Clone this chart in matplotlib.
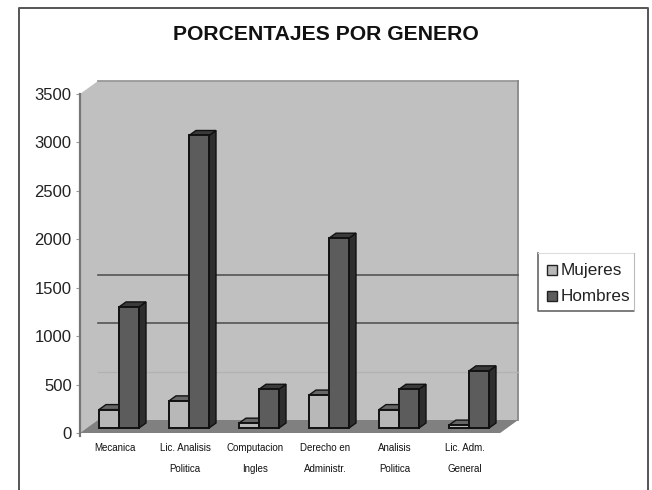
"""Columnas 3D simuladas: porcentajes por genero"""

import matplotlib
matplotlib.use("Agg")
matplotlib.rcParams["font.family"] = ["Liberation Sans", "DejaVu Sans"]

import matplotlib.pyplot as plt
from matplotlib.lines import Line2D
from matplotlib.patches import Polygon, Rectangle
import numpy as np

CATEGORIES = ["Mecanica", "Lic. Analisis\nPolitica", "Computacion\nIngles",
              "Derecho en\nAdministr.", "Analisis\nPolitica", "Lic. Adm.\nGeneral"]
MUJERES = [190, 280, 50, 340, 190, 30]
HOMBRES = [1250, 3020, 400, 1960, 400, 590]
Y_TICKS = [0, 500, 1000, 1500, 2000, 2500, 3000, 3500]
DARK_GRID = [1000, 1500]
FAINT_GRID = [500]

WALL = "#c0c0c0"
FLOOR = "#808080"
COLOR_M = "#b8b8b8"
COLOR_H = "#5c5c5c"

W, H = 652, 490
fig = plt.figure(figsize=(W / 100, H / 100), dpi=100, facecolor="white")

# marco exterior, en pixeles de figura
bg = fig.add_axes([0, 0, 1, 1])
bg.set_xlim(0, W)
bg.set_ylim(H, 0)
bg.axis("off")
bg.plot([19, 19, 648, 648], [490, 8, 8, 490], color="#555555", lw=1.4)

# plano frontal: x de 80 a 500 px, y de 433 a 94 px
ax = fig.add_axes([80 / W, 1 - 433 / H, 420 / W, 339 / H])
ax.set_xlim(0, len(CATEGORIES))
ax.set_ylim(0, 3500)
ax.patch.set_visible(False)
for s in ["top", "right", "bottom"]:
    ax.spines[s].set_visible(False)
ax.spines["left"].set_color("#777777")
ax.spines["left"].set_linewidth(1.6)
ax.spines["left"].set_bounds(-30, 3500)
ax.set_yticks(Y_TICKS)
ax.tick_params(axis="y", length=3, color="#999999", labelsize=12, pad=3, labelcolor="#222222")
ax.set_xticks(np.arange(len(CATEGORIES)) + 0.5)
ax.set_xticklabels(CATEGORIES, fontsize=7, linespacing=2.35, color="#111111")
ax.tick_params(axis="x", length=0, pad=7)

units_x = len(CATEGORIES) / 420
units_y = 3500 / 339


def offset(dx, dy):
    """Desplazamiento en px convertido a unidades de datos."""
    return dx * units_x, dy * units_y


def box(x0, width, value, color, side, top):
    dx, dy = offset(7, 5)
    _, y0 = offset(0, 5)
    y1 = y0 + value
    x1 = x0 + width
    ax.add_patch(Polygon([(x1, y0), (x1 + dx, y0 + dy), (x1 + dx, y1 + dy), (x1, y1)],
                         fc=side, ec="#111111", lw=1.0, zorder=4, clip_on=False))
    ax.add_patch(Polygon([(x0, y1), (x0 + dx, y1 + dy), (x1 + dx, y1 + dy), (x1, y1)],
                         fc=top, ec="#111111", lw=1.0, zorder=4, clip_on=False))
    ax.add_patch(Rectangle((x0, y0), width, value, fc=color, ec="#111111", lw=1.4,
                           zorder=5, clip_on=False))


# pared del fondo, pared lateral y piso
wx, wy = offset(18, 13)
xmax = len(CATEGORIES)
ax.add_patch(Polygon([(0, 0), (wx, wy), (wx, 3500 + wy), (xmax + wx, 3500 + wy), (xmax + wx, wy),
                      (xmax, 0)], fc=WALL, ec="none", zorder=0, clip_on=False))
ax.add_patch(Polygon([(0, 3500), (wx, 3500 + wy), (wx, wy), (0, 0)], fc=WALL, ec="none",
                     zorder=0, clip_on=False))
ax.plot([wx, xmax + wx], [3500 + wy] * 2, color="#999999", lw=1.3, zorder=1, clip_on=False)
ax.plot([xmax + wx] * 2, [wy, 3500 + wy], color="#888888", lw=1.3, zorder=1, clip_on=False)
ax.add_patch(Polygon([(0, 0), (wx, wy), (xmax + wx, wy), (xmax, 0)], fc=FLOOR, ec="none",
                     zorder=1, clip_on=False))

for v in DARK_GRID:
    ax.add_line(Line2D([wx, xmax + wx], [v + wy] * 2, color="#555555", lw=1.2, zorder=2, clip_on=False))
for v in FAINT_GRID:
    ax.add_line(Line2D([wx, xmax + wx], [v + wy] * 2, color="#b2b2b2", lw=1.0, zorder=2, clip_on=False))

bar_w = 20 * units_x
start = 19 * units_x
for i, (m, h) in enumerate(zip(MUJERES, HOMBRES)):
    box(i + start + bar_w, bar_w, h, COLOR_H, "#2e2e2e", "#3a3a3a")
    box(i + start, bar_w, m, COLOR_M, "#777777", "#666666")

fig.text(326 / W, 1 - 35 / H, "PORCENTAJES POR GENERO", ha="center", va="center",
         fontsize=15.2, fontweight="bold", color="#111111")

# leyenda
bg.plot([538, 538, 634], [253, 311, 311], color="#666666", lw=1.2)
bg.plot([634, 538], [253, 253], color="#dddddd", lw=0.8)
bg.plot([634, 634], [253, 311], color="#bbbbbb", lw=0.8)
for name, color, y in [("Mujeres", COLOR_M, 270), ("Hombres", COLOR_H, 296)]:
    bg.add_patch(Rectangle((547, y - 5), 10, 10, fc=color, ec="#222222", lw=1.0))
    bg.text(561, y, name, fontsize=12.3, va="center", ha="left", color="#222222")

fig.savefig("out.png", dpi=100)
